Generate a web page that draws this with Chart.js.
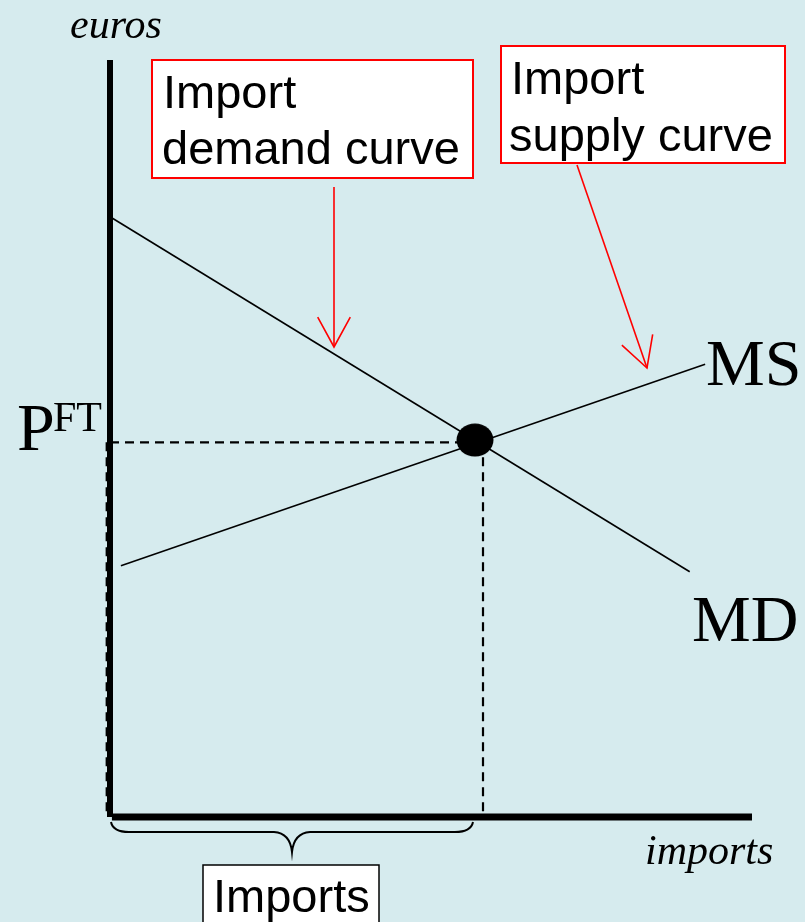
<!DOCTYPE html>
<html>
<head>
<meta charset="utf-8">
<script src="https://cdn.jsdelivr.net/npm/chart.js@4.4.1/dist/chart.umd.min.js"></script>
<style>
html,body{margin:0;padding:0;background:#d6ebee;}
canvas{display:block;}
</style>
</head>
<body>
<canvas id="c" width="805" height="922"></canvas>
<script>
// ---- data (quantity of imports on x, price in euros on y; 0..100 units) ----
const mdCurve = [{x:0, y:79.3}, {x:90.3, y:32.4}];      // import demand MD
const msCurve = [{x:1.7, y:33.2}, {x:92.7, y:59.8}];    // import supply MS
const equilibrium = [{x:56.85, y:49.8}];                 // free-trade equilibrium
const priceFT = 49.5;                                     // P^FT level
const importsQty = 58.1;                                  // quantity of imports
const axisMax = 100;
const labels = {
  yAxis: "euros", xAxis: "imports", price: "P", priceSup: "FT",
  ms: "MS", md: "MD",
  demandBox: ["Import", "demand curve"], supplyBox: ["Import", "supply curve"],
  imports: "Imports"
};

// elliptical marker for the equilibrium point
const dot = document.createElement('canvas');
dot.width = 38; dot.height = 34;
(function(){
  const g = dot.getContext('2d');
  g.fillStyle = '#000';
  g.beginPath(); g.ellipse(19, 17, 18.5, 16.5, 0, 0, Math.PI * 2); g.fill();
})();

const annot = {
  id: 'annot',
  afterDatasetsDraw(chart) {
    const ctx = chart.ctx, xs = chart.scales.x, ys = chart.scales.y;
    const X = v => xs.getPixelForValue(v), Y = v => ys.getPixelForValue(v);
    ctx.save();
    ctx.fillStyle = '#000';
    ctx.textBaseline = 'alphabetic';
    // axis titles
    ctx.font = "italic 42px 'Liberation Serif', 'Times New Roman', serif";
    ctx.textAlign = 'left';
    ctx.fillText(labels.yAxis, 70, 38);
    ctx.fillText(labels.xAxis, 645, 864);
    // P^FT
    ctx.font = "68px 'Liberation Serif', serif";
    ctx.fillText(labels.price, 17, Y(priceFT) + 8);
    ctx.font = "42px 'Liberation Serif', serif";
    ctx.fillText(labels.priceSup, 53, Y(priceFT) - 11);
    // curve labels
    ctx.font = "66px 'Liberation Serif', serif";
    ctx.fillText(labels.ms, 706, 385);
    ctx.fillText(labels.md, 692, 641);

    // boxes
    function box(x, y, w, h, stroke, lw) {
      ctx.fillStyle = '#fff';
      ctx.fillRect(x, y, w, h);
      ctx.strokeStyle = stroke; ctx.lineWidth = lw;
      ctx.strokeRect(x, y, w, h);
      ctx.fillStyle = '#000';
    }
    ctx.font = "47px 'Liberation Sans', Arial, sans-serif";
    box(152, 60, 321, 118, '#ff0000', 2);
    ctx.fillText(labels.demandBox[0], 163, 108);
    ctx.fillText(labels.demandBox[1], 162, 164);
    box(501, 46, 284, 117, '#ff0000', 2);
    ctx.fillText(labels.supplyBox[0], 511, 94);
    ctx.fillText(labels.supplyBox[1], 509, 151);
    box(203, 865, 176, 70, '#000', 1.5);
    ctx.fillText(labels.imports, 213, 912);

    // arrows
    function arrow(x1, y1, x2, y2) {
      ctx.strokeStyle = '#ff0000'; ctx.lineWidth = 1.6;
      ctx.beginPath(); ctx.moveTo(x1, y1); ctx.lineTo(x2, y2); ctx.stroke();
      const a = Math.atan2(y2 - y1, x2 - x1), L = 34, s = 0.5;
      ctx.beginPath();
      ctx.moveTo(x2 - L * Math.cos(a - s), y2 - L * Math.sin(a - s));
      ctx.lineTo(x2, y2);
      ctx.lineTo(x2 - L * Math.cos(a + s), y2 - L * Math.sin(a + s));
      ctx.stroke();
    }
    arrow(334, 187, 334, 347);
    arrow(577, 165, 647, 368);

    // brace under the x-axis
    const bl = X(0) + 1, br = X(importsQty) - 10, bm = (bl + br) / 2;
    const t = 822, h = 832, tip = 852;
    ctx.strokeStyle = '#000'; ctx.lineWidth = 2;
    ctx.beginPath();
    ctx.moveTo(bl, t);
    ctx.quadraticCurveTo(bl + 2, h, bl + 18, h);
    ctx.lineTo(bm - 18, h);
    ctx.quadraticCurveTo(bm - 2, h + 1, bm, tip);
    ctx.quadraticCurveTo(bm + 2, h + 1, bm + 18, h);
    ctx.lineTo(br - 18, h);
    ctx.quadraticCurveTo(br - 2, h, br, t);
    ctx.stroke();
    ctx.restore();
  }
};

new Chart(document.getElementById('c'), {
  type: 'scatter',
  data: {
    datasets: [
      { data: mdCurve, showLine: true, borderColor: '#000', borderWidth: 1.6, pointRadius: 0, clip: false },
      { data: msCurve, showLine: true, borderColor: '#000', borderWidth: 1.6, pointRadius: 0, clip: false },
      { data: [{x:0, y:priceFT}, {x:equilibrium[0].x, y:priceFT}], showLine: true, borderColor: '#000', borderWidth: 2.2, borderDash: [9, 6], pointRadius: 0, clip: false },
      { data: [{x:importsQty, y:priceFT}, {x:importsQty, y:0}], showLine: true, borderColor: '#000', borderWidth: 2.2, borderDash: [9, 6], pointRadius: 0, clip: false },
      { data: [{x:-0.45, y:priceFT}, {x:-0.45, y:0}], showLine: true, borderColor: '#000', borderWidth: 3, borderDash: [9, 6], pointRadius: 0, clip: false },
      { data: [{x:0, y:0}, {x:0, y:axisMax}], showLine: true, borderColor: '#000', borderWidth: 6, pointRadius: 0, clip: false },
      { data: [{x:0.3, y:0}, {x:axisMax, y:0}], showLine: true, borderColor: '#000', borderWidth: 7, pointRadius: 0, clip: false },
      { data: equilibrium, pointStyle: dot, pointRadius: 18, pointBackgroundColor: '#000', pointBorderWidth: 0, clip: false }
    ]
  },
  options: {
    responsive: false,
    animation: false,
    layout: { padding: { left: 110, right: 53, top: 60, bottom: 105 } },
    plugins: { legend: { display: false }, tooltip: { enabled: false } },
    scales: {
      x: { type: 'linear', min: 0, max: axisMax, display: false },
      y: { type: 'linear', min: 0, max: axisMax, display: false }
    }
  },
  plugins: [annot]
});
</script>
</body>
</html>
